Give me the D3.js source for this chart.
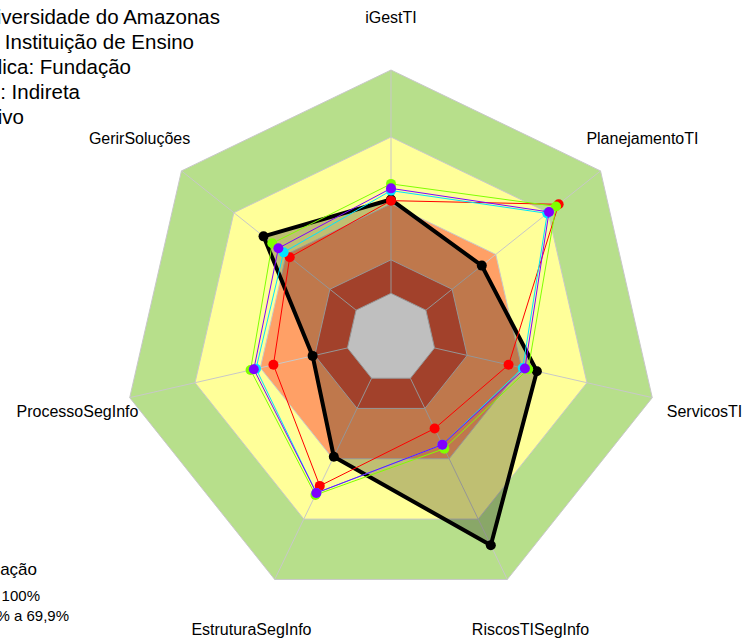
<!DOCTYPE html>
<html>
<head>
<meta charset="utf-8">
<script src="https://cdn.jsdelivr.net/npm/d3@7"></script>
<style>
  body { margin: 0; background: #fff; }
  text { font-family: "Liberation Sans", Arial, sans-serif; fill: #000; }
</style>
</head>
<body>
<svg id="chart"></svg>
<script>
// chart data (axes listed clockwise from the top)
var categories = ["iGestTI", "PlanejamentoTI", "ServicosTI", "RiscosTISegInfo",
                  "EstruturaSegInfo", "ProcessoSegInfo", "GerirSoluções"];
var instituicao = [42, 32, 47, 83, 39, 16, 53];
var serieVermelha = [41.5, 76, 34, 25, 53.5, 34, 38];
var serieVerde = [49, 74.5, 43, 35, 58, 44.5, 48];
var serieCiano = [46, 69.5, 40.5, 33, 57, 42, 41.5];
var serieRoxa = [47, 70.5, 41.5, 33, 57, 43, 44.5];

// capacity bands (upper limit in %)
var bandLimits = [100, 70, 40, 15];
var bandColors = ["#B7DF8B", "#FFFF99", "#FFA066", "#D9573A"];

var infoLines = ["Fundação Universidade do Amazonas", "Tipo: Instituição de Ensino",
                 "Entidade Pública: Fundação", "Administração: Indireta", "Poder: Executivo"];
var legendTitle = "Classificação";
var legendLabels = ["70% a 100%", "40% a 69,9%"];

var width = 744, height = 641;
var cx = 391, cy = 338, R = 268;

var svg = d3.select("#chart")
  .attr("width", width)
  .attr("height", height);

var r = d3.scaleLinear().domain([0, 100]).range([R / 6, R]);
var angle = d3.scaleLinear().domain([0, categories.length]).range([-Math.PI / 2, 1.5 * Math.PI]);

function pt(i, v) {
  return [cx + r(v) * Math.cos(angle(i)), cy + r(v) * Math.sin(angle(i))];
}
function poly(vals) {
  return vals.map(function(v, i) { return pt(i, v); });
}
var line = d3.line().curve(d3.curveLinearClosed);

// bands
svg.append("g")
  .selectAll("path")
  .data(bandLimits)
  .enter()
  .append("path")
  .attr("d", function(d) { return line(categories.map(function(c, i) { return pt(i, d); })); })
  .attr("fill", function(d, i) { return bandColors[i]; })
  .attr("stroke", "#c8c8c8")
  .attr("stroke-width", 1);

// inner hole outline
svg.append("path")
  .attr("d", line(categories.map(function(c, i) { return pt(i, 0); })))
  .attr("fill", "#fff")
  .attr("stroke", "#c8c8c8");

// axes
svg.append("g")
  .selectAll("line")
  .data(categories)
  .enter()
  .append("line")
  .attr("x1", function(d, i) { return pt(i, 0)[0]; })
  .attr("y1", function(d, i) { return pt(i, 0)[1]; })
  .attr("x2", function(d, i) { return pt(i, 100)[0]; })
  .attr("y2", function(d, i) { return pt(i, 100)[1]; })
  .attr("stroke", "#c8c8c8")
  .attr("stroke-width", 1);

// institution polygon (shaded)
svg.append("path")
  .attr("d", line(poly(instituicao)))
  .attr("fill", "#000")
  .attr("fill-opacity", 0.25)
  .attr("stroke", "none");

// comparison series
var others = [
  {vals: serieVermelha, color: "#FF0000"},
  {vals: serieVerde, color: "#7FFF00"},
  {vals: serieCiano, color: "#00E5FF"},
  {vals: serieRoxa, color: "#8000FF"}
];

// black outline first
svg.append("path")
  .attr("d", line(poly(instituicao)))
  .attr("fill", "none")
  .attr("stroke", "#000")
  .attr("stroke-width", 4)
  .attr("stroke-linejoin", "round");
svg.append("g")
  .selectAll("circle")
  .data(poly(instituicao))
  .enter()
  .append("circle")
  .attr("cx", function(d) { return d[0]; })
  .attr("cy", function(d) { return d[1]; })
  .attr("r", 5)
  .attr("fill", "#000");

others.forEach(function(s) {
  svg.append("path")
    .attr("d", line(poly(s.vals)))
    .attr("fill", "none")
    .attr("stroke", s.color)
    .attr("stroke-width", 1);
  svg.append("g")
    .selectAll("circle")
    .data(poly(s.vals))
    .enter()
    .append("circle")
    .attr("cx", function(d) { return d[0]; })
    .attr("cy", function(d) { return d[1]; })
    .attr("r", 5)
    .attr("fill", s.color);
});

// axis labels
svg.append("g")
  .selectAll("text")
  .data(categories)
  .enter()
  .append("text")
  .attr("x", function(d, i) { return cx + 1.2 * R * Math.cos(angle(i)); })
  .attr("y", function(d, i) { return cy + 1.2 * R * Math.sin(angle(i)) + 7; })
  .attr("text-anchor", "middle")
  .style("font-size", "16px")
  .text(function(d) { return d; });

// info text at the top left (cut by the page edge)
var infoRight = [220, 194, 131, 80, 24];
svg.append("g")
  .selectAll("text")
  .data(infoLines)
  .enter()
  .append("text")
  .attr("x", function(d, i) { return infoRight[i]; })
  .attr("y", function(d, i) { return 24 + i * 25; })
  .attr("text-anchor", "end")
  .style("font-size", "20.5px")
  .text(function(d) { return d; });

// legend at the bottom left (cut by the page edge)
svg.append("text")
  .attr("x", 37).attr("y", 575)
  .attr("text-anchor", "end")
  .style("font-size", "17px")
  .text(legendTitle);
var legRight = [40, 69];
svg.append("g")
  .selectAll("text")
  .data(legendLabels)
  .enter()
  .append("text")
  .attr("x", function(d, i) { return legRight[i]; })
  .attr("y", function(d, i) { return 601 + i * 20; })
  .attr("text-anchor", "end")
  .style("font-size", "15px")
  .text(function(d) { return d; });
</script>
</body>
</html>
